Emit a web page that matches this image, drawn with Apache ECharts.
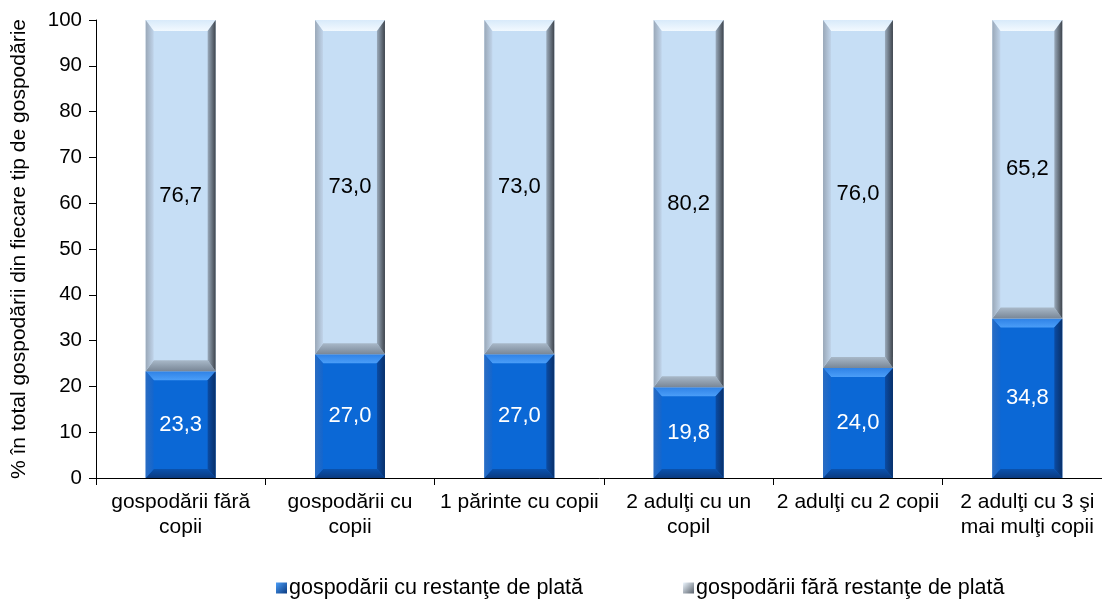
<!DOCTYPE html>
<html><head><meta charset="utf-8">
<script src="https://cdn.jsdelivr.net/npm/echarts@6/dist/echarts.min.js"></script>
<style>html,body{margin:0;padding:0;background:#fff}#c{width:1102px;height:600px}</style>
</head><body><div id="c"></div>
<script>
var categories = ['gospodării fără\ncopii', 'gospodării cu\ncopii', '1 părinte cu copii', '2 adulţi cu un\ncopil', '2 adulţi cu 2 copii', '2 adulţi cu 3 şi\nmai mulţi copii'];
var withArrears = [23.3, 27.0, 27.0, 19.8, 24.0, 34.8];
var withoutArrears = [76.7, 73.0, 73.0, 80.2, 76.0, 65.2];
var yTicks = [0, 10, 20, 30, 40, 50, 60, 70, 80, 90, 100];
var seriesNames = ['gospodării cu restanţe de plată', 'gospodării fără restanţe de plată'];

var FONT = 'Liberation Sans, Arial, sans-serif';
var palettes = [
  {face:'#0b68d6', top:['#2f82e6','#4b9ef8'], left:['#2a6cc2','#1266cf'], right:['#08306a','#0b4ca4'], bottom:['#0a52ae','#0a3a80'], text:'#ffffff', bv:9},
  {face:'#c6def5', top:['#d8eafa','#f2f9ff'], left:['#9aa8b8','#c0d4ea'], right:['#3e444c','#9aaabb'], bottom:['#a8b8c8','#788696'], text:'#000000', bv:11}
];

function lg(x1,y1,x2,y2,c){return {type:'linear',x:x1,y:y1,x2:x2,y2:y2,colorStops:[{offset:0,color:c[0]},{offset:1,color:c[1]}]};}

function makeRender(p){
  return function(params, api){
    var idx = api.value(0), s = api.value(1), e = api.value(2), v = api.value(3);
    var cw = api.size([1,0])[0];
    var bw = cw*0.413;
    var pt0 = api.coord([idx, e]), pt1 = api.coord([idx, s]);
    var x0 = pt0[0]-bw/2, x1 = pt0[0]+bw/2, y0 = pt0[1], y1 = pt1[1];
    var h = y1-y0;
    var b = Math.min(p.bv, h/2), bs = Math.min(8, bw/2);
    var ly = (y0+y1)/2;
    return {type:'group', children:[
      {type:'rect', shape:{x:x0,y:y0,width:bw,height:h}, style:{fill:p.face}},
      {type:'polygon', shape:{points:[[x0,y0],[x1,y0],[x1-bs,y0+b],[x0+bs,y0+b]]}, style:{fill:lg(0,0,0,1,p.top)}},
      {type:'polygon', shape:{points:[[x0,y1],[x1,y1],[x1-bs,y1-b],[x0+bs,y1-b]]}, style:{fill:lg(0,0,0,1,p.bottom)}},
      {type:'polygon', shape:{points:[[x0,y0],[x0+bs,y0+b],[x0+bs,y1-b],[x0,y1]]}, style:{fill:lg(0,0,1,0,p.left)}},
      {type:'polygon', shape:{points:[[x1,y0],[x1-bs,y0+b],[x1-bs,y1-b],[x1,y1]]}, style:{fill:lg(1,0,0,0,p.right)}},
      {type:'text', x:pt0[0], y:ly, style:{text:v.toFixed(1).replace('.',','), fill:p.text, font:'22px '+FONT, align:'center', verticalAlign:'middle'}}
    ]};
  };
}

var d1 = withArrears.map(function(v,i){return [i, 0, v, v];});
var d2 = withoutArrears.map(function(v,i){return [i, withArrears[i], withArrears[i]+v, v];});

var chart = echarts.init(document.getElementById('c'));
chart.setOption({
  animation:false,
  textStyle:{fontFamily:FONT},
  grid:{left:96, top:20, right:-10, bottom:122, containLabel:false, outerBoundsMode:'none'},
  legend:{
    bottom:-4, left:271, itemGap:100, itemWidth:11, itemHeight:11, icon:'rect',
    textStyle:{fontSize:21.5, color:'#000', fontFamily:FONT, padding:[0,0,0,-3]},
    data:seriesNames
  },
  xAxis:{
    type:'category', data:categories, boundaryGap:true,
    axisLine:{lineStyle:{color:'#000', width:1}},
    axisTick:{show:true, length:7, lineStyle:{color:'#000'}},
    axisLabel:{fontSize:21, color:'#000', lineHeight:25, margin:12, interval:0, fontFamily:FONT}
  },
  yAxis:{
    type:'value', min:0, max:100, interval:10,
    name:'% în total gospodării din fiecare tip de gospodărie', nameLocation:'middle', nameGap:66, nameRotate:90,
    nameTextStyle:{fontSize:21, color:'#000', fontFamily:FONT},
    axisLine:{show:true, lineStyle:{color:'#000'}},
    axisTick:{show:true, length:7, lineStyle:{color:'#000'}},
    axisLabel:{fontSize:20.5, color:'#000', margin:14, fontFamily:FONT},
    splitLine:{show:false}
  },
  series:[
    {name:seriesNames[0], type:'custom', renderItem:makeRender(palettes[0]), data:d1,
     encode:{x:0, y:[1,2]}, itemStyle:{color:lg(0,0,1,1,['#4b9ef8','#0a3a80'])}},
    {name:seriesNames[1], type:'custom', renderItem:makeRender(palettes[1]), data:d2,
     encode:{x:0, y:[1,2]}, itemStyle:{color:lg(0,0,1,1,['#eef7ff','#5a626c'])}}
  ]
});
</script></body></html>
